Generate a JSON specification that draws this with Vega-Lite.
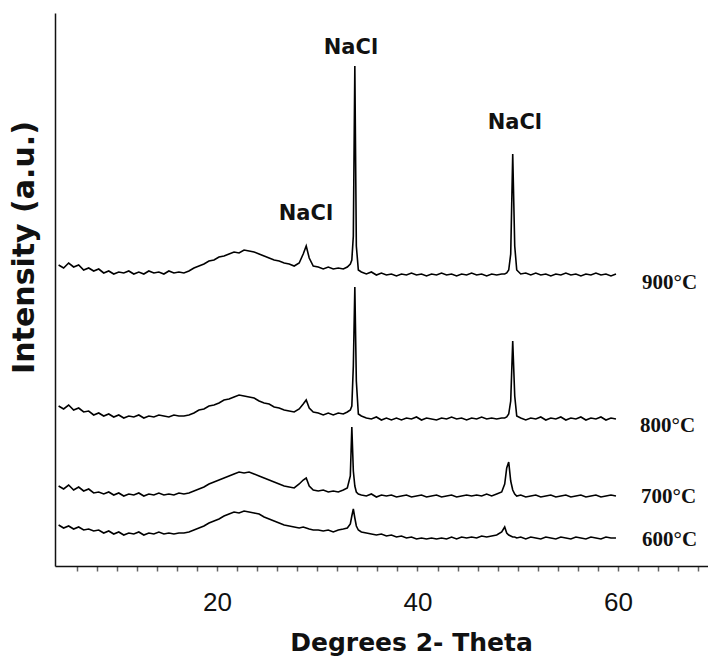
{
  "$schema": "https://vega.github.io/schema/vega-lite/v6.json",
  "width": 653,
  "height": 553,
  "autosize": "none",
  "padding": {"left": 55, "top": 13, "right": 0, "bottom": 91},
  "background": "white",
  "config": {"view": {"stroke": null}},
  "datasets": {
    "xrd": [
      {"x": 4.2, "a": 301, "b": 160, "c": 80, "d": 41},
      {"x": 4.7, "a": 298, "b": 157, "c": 77, "d": 38},
      {"x": 5.2, "a": 303, "b": 161, "c": 81, "d": 40},
      {"x": 5.7, "a": 299, "b": 156, "c": 76, "d": 37},
      {"x": 6.2, "a": 301, "b": 158, "c": 79, "d": 39},
      {"x": 6.7, "a": 296, "b": 154, "c": 75, "d": 36},
      {"x": 7.2, "a": 298, "b": 155, "c": 77, "d": 37},
      {"x": 7.7, "a": 295, "b": 151, "c": 73, "d": 35},
      {"x": 8.2, "a": 297, "b": 153, "c": 74, "d": 36},
      {"x": 8.7, "a": 293, "b": 150, "c": 72, "d": 33},
      {"x": 9.2, "a": 295, "b": 152, "c": 74, "d": 35},
      {"x": 9.7, "a": 292, "b": 149, "c": 71, "d": 32},
      {"x": 10.2, "a": 294, "b": 151, "c": 73, "d": 34},
      {"x": 10.7, "a": 293, "b": 148, "c": 70, "d": 31},
      {"x": 11.2, "a": 295, "b": 150, "c": 72, "d": 33},
      {"x": 11.7, "a": 292, "b": 149, "c": 71, "d": 32},
      {"x": 12.2, "a": 294, "b": 151, "c": 73, "d": 34},
      {"x": 12.7, "a": 292, "b": 148, "c": 70, "d": 31},
      {"x": 13.2, "a": 295, "b": 150, "c": 72, "d": 33},
      {"x": 13.7, "a": 293, "b": 149, "c": 71, "d": 32},
      {"x": 14.2, "a": 294, "b": 151, "c": 73, "d": 34},
      {"x": 14.7, "a": 292, "b": 150, "c": 71, "d": 32},
      {"x": 15.2, "a": 295, "b": 149, "c": 72, "d": 33},
      {"x": 15.7, "a": 293, "b": 151, "c": 71, "d": 32},
      {"x": 16.2, "a": 294, "b": 150, "c": 73, "d": 33},
      {"x": 16.7, "a": 293, "b": 150, "c": 72, "d": 33},
      {"x": 17.2, "a": 295, "b": 151, "c": 73, "d": 34},
      {"x": 17.7, "a": 298, "b": 153, "c": 75, "d": 36},
      {"x": 18.2, "a": 300, "b": 156, "c": 77, "d": 38},
      {"x": 18.7, "a": 302, "b": 157, "c": 79, "d": 40},
      {"x": 19.2, "a": 305, "b": 160, "c": 82, "d": 43},
      {"x": 19.7, "a": 306, "b": 161, "c": 84, "d": 45},
      {"x": 20.2, "a": 309, "b": 163, "c": 86, "d": 47},
      {"x": 20.7, "a": 310, "b": 166, "c": 88, "d": 50},
      {"x": 21.2, "a": 312, "b": 167, "c": 90, "d": 52},
      {"x": 21.7, "a": 314, "b": 169, "c": 92, "d": 54},
      {"x": 22.2, "a": 313, "b": 171, "c": 94, "d": 53},
      {"x": 22.7, "a": 316, "b": 170, "c": 93, "d": 55},
      {"x": 23.2, "a": 315, "b": 169, "c": 94, "d": 54},
      {"x": 23.7, "a": 314, "b": 168, "c": 92, "d": 53},
      {"x": 24.2, "a": 312, "b": 165, "c": 90, "d": 52},
      {"x": 24.7, "a": 310, "b": 163, "c": 88, "d": 49},
      {"x": 25.2, "a": 308, "b": 162, "c": 86, "d": 47},
      {"x": 25.7, "a": 306, "b": 159, "c": 84, "d": 45},
      {"x": 26.2, "a": 305, "b": 158, "c": 82, "d": 43},
      {"x": 26.7, "a": 303, "b": 156, "c": 80, "d": 41},
      {"x": 27.2, "a": 302, "b": 155, "c": 79, "d": 40},
      {"x": 27.7, "a": 300, "b": 154, "c": 78, "d": 39},
      {"x": 28.2, "a": 303, "b": 157, "c": 82, "d": 38},
      {"x": 28.6, "a": 312, "b": 162, "c": 86, "d": 39},
      {"x": 28.9, "a": 320, "b": 166, "c": 88, "d": 38},
      {"x": 29.2, "a": 308, "b": 158, "c": 80, "d": 37},
      {"x": 29.6, "a": 300, "b": 154, "c": 76, "d": 36},
      {"x": 30.1, "a": 299, "b": 153, "c": 75, "d": 36},
      {"x": 30.6, "a": 297, "b": 151, "c": 76, "d": 35},
      {"x": 31.1, "a": 299, "b": 153, "c": 74, "d": 36},
      {"x": 31.6, "a": 297, "b": 151, "c": 75, "d": 34},
      {"x": 32.1, "a": 298, "b": 153, "c": 74, "d": 36},
      {"x": 32.6, "a": 297, "b": 152, "c": 76, "d": 37},
      {"x": 33.0, "a": 299, "b": 154, "c": 78, "d": 38},
      {"x": 33.3, "a": 302, "b": 156, "c": 90, "d": 42},
      {"x": 33.45, "a": 306, "b": 160, "c": 139, "d": 50},
      {"x": 33.6, "a": 330, "b": 200, "c": 95, "d": 57},
      {"x": 33.75, "a": 500, "b": 279, "c": 80, "d": 48},
      {"x": 33.9, "a": 320, "b": 185, "c": 74, "d": 40},
      {"x": 34.1, "a": 296, "b": 152, "c": 72, "d": 36},
      {"x": 34.4, "a": 294, "b": 150, "c": 71, "d": 34},
      {"x": 34.9, "a": 292, "b": 148, "c": 70, "d": 33},
      {"x": 35.4, "a": 294, "b": 147, "c": 72, "d": 32},
      {"x": 35.9, "a": 291, "b": 149, "c": 69, "d": 31},
      {"x": 36.4, "a": 293, "b": 146, "c": 71, "d": 32},
      {"x": 36.9, "a": 291, "b": 148, "c": 70, "d": 30},
      {"x": 37.4, "a": 292, "b": 146, "c": 71, "d": 31},
      {"x": 37.9, "a": 290, "b": 148, "c": 69, "d": 29},
      {"x": 38.4, "a": 292, "b": 146, "c": 70, "d": 30},
      {"x": 38.9, "a": 291, "b": 148, "c": 71, "d": 28},
      {"x": 39.4, "a": 293, "b": 147, "c": 69, "d": 29},
      {"x": 39.9, "a": 291, "b": 149, "c": 70, "d": 27},
      {"x": 40.4, "a": 292, "b": 146, "c": 71, "d": 28},
      {"x": 40.9, "a": 290, "b": 148, "c": 69, "d": 27},
      {"x": 41.4, "a": 292, "b": 147, "c": 70, "d": 28},
      {"x": 41.9, "a": 291, "b": 146, "c": 71, "d": 27},
      {"x": 42.4, "a": 293, "b": 148, "c": 69, "d": 28},
      {"x": 42.9, "a": 291, "b": 147, "c": 70, "d": 27},
      {"x": 43.4, "a": 292, "b": 149, "c": 71, "d": 29},
      {"x": 43.9, "a": 290, "b": 147, "c": 69, "d": 27},
      {"x": 44.4, "a": 292, "b": 148, "c": 70, "d": 29},
      {"x": 44.9, "a": 291, "b": 146, "c": 71, "d": 28},
      {"x": 45.4, "a": 293, "b": 148, "c": 70, "d": 29},
      {"x": 45.9, "a": 291, "b": 147, "c": 71, "d": 28},
      {"x": 46.4, "a": 292, "b": 149, "c": 70, "d": 30},
      {"x": 46.9, "a": 290, "b": 147, "c": 72, "d": 29},
      {"x": 47.4, "a": 292, "b": 148, "c": 70, "d": 30},
      {"x": 47.9, "a": 291, "b": 147, "c": 72, "d": 31},
      {"x": 48.4, "a": 292, "b": 148, "c": 74, "d": 34},
      {"x": 48.7, "a": 292, "b": 148, "c": 82, "d": 39},
      {"x": 48.9, "a": 293, "b": 149, "c": 98, "d": 33},
      {"x": 49.1, "a": 296, "b": 152, "c": 104, "d": 31},
      {"x": 49.3, "a": 312, "b": 165, "c": 85, "d": 30},
      {"x": 49.5, "a": 412, "b": 225, "c": 76, "d": 29},
      {"x": 49.7, "a": 320, "b": 170, "c": 72, "d": 29},
      {"x": 49.9, "a": 296, "b": 150, "c": 70, "d": 28},
      {"x": 50.3, "a": 292, "b": 148, "c": 71, "d": 29},
      {"x": 50.8, "a": 293, "b": 146, "c": 69, "d": 27},
      {"x": 51.3, "a": 291, "b": 148, "c": 70, "d": 29},
      {"x": 51.8, "a": 293, "b": 147, "c": 71, "d": 28},
      {"x": 52.3, "a": 291, "b": 149, "c": 69, "d": 27},
      {"x": 52.8, "a": 292, "b": 146, "c": 70, "d": 29},
      {"x": 53.3, "a": 290, "b": 148, "c": 71, "d": 28},
      {"x": 53.8, "a": 292, "b": 147, "c": 69, "d": 27},
      {"x": 54.3, "a": 291, "b": 149, "c": 70, "d": 29},
      {"x": 54.8, "a": 293, "b": 146, "c": 71, "d": 28},
      {"x": 55.3, "a": 291, "b": 148, "c": 69, "d": 27},
      {"x": 55.8, "a": 292, "b": 147, "c": 70, "d": 29},
      {"x": 56.3, "a": 290, "b": 149, "c": 71, "d": 28},
      {"x": 56.8, "a": 292, "b": 146, "c": 69, "d": 27},
      {"x": 57.3, "a": 291, "b": 148, "c": 70, "d": 29},
      {"x": 57.8, "a": 293, "b": 147, "c": 71, "d": 28},
      {"x": 58.3, "a": 291, "b": 149, "c": 69, "d": 27},
      {"x": 58.8, "a": 292, "b": 146, "c": 70, "d": 29},
      {"x": 59.3, "a": 290, "b": 148, "c": 71, "d": 28},
      {"x": 59.8, "a": 292, "b": 147, "c": 70, "d": 28}
    ],
    "nacl": [
      {"x": 33.36, "y": 518, "t": "NaCl"},
      {"x": 49.71, "y": 443, "t": "NaCl"},
      {"x": 28.87, "y": 352, "t": "NaCl"}
    ],
    "temps": [
      {"x": 62.4, "y": 283, "t": "900°C"},
      {"x": 62.2, "y": 140, "t": "800°C"},
      {"x": 62.3, "y": 69, "t": "700°C"},
      {"x": 62.4, "y": 26, "t": "600°C"}
    ]
  },
  "layer": [
    {
      "data": {"name": "xrd"},
      "transform": [{"fold": ["a", "b", "c", "d"], "as": ["s", "y"]}],
      "mark": {"type": "line", "color": "black", "strokeWidth": 1.6},
      "encoding": {
        "x": {
          "field": "x",
          "type": "quantitative",
          "scale": {"domain": [3.84, 68.98], "nice": false, "zero": false},
          "axis": {
            "title": "Degrees 2- Theta",
            "values": [6, 8, 10, 12, 14, 16, 18, 20, 22, 24, 26, 28, 30, 32, 34, 36, 38, 40, 42, 44, 46, 48, 50, 52, 54, 56, 58, 60, 62, 64, 66, 68],
            "tickCount": 60,
            "labelExpr": "datum.value % 20 === 0 ? datum.label : ''",
            "labelOverlap": false,
            "labelFlush": false,
            "labelFont": "Liberation Sans",
            "labelFontSize": 26,
            "labelColor": "#111",
            "labelPadding": 18,
            "tickSize": 5,
            "tickColor": "#666",
            "tickWidth": 1.5,
            "domainColor": "#111",
            "domainWidth": 1.5,
            "grid": false,
            "titleFont": "DejaVu Sans",
            "titleFontSize": 25,
            "titleFontWeight": "bold",
            "titleColor": "#111",
            "titleX": 356,
            "titleY": 84,
            "titleAlign": "center",
            "titleBaseline": "alphabetic"
          }
        },
        "y": {
          "field": "y",
          "type": "quantitative",
          "scale": {"domain": [0, 553], "nice": false, "zero": false},
          "axis": {
            "title": "Intensity (a.u.)",
            "labels": false,
            "ticks": false,
            "grid": false,
            "domainColor": "#111",
            "domainWidth": 1.5,
            "titleFont": "DejaVu Sans",
            "titleFontSize": 30,
            "titleFontWeight": "bold",
            "titleColor": "#111",
            "titleX": -31,
            "titleY": 234,
            "titleAlign": "center",
            "titleBaseline": "middle",
            "titleAngle": -90
          }
        },
        "detail": {"field": "s"}
      }
    },
    {
      "data": {"name": "nacl"},
      "mark": {"type": "text", "font": "DejaVu Sans", "fontSize": 21, "fontWeight": "bold", "color": "#111", "align": "center", "baseline": "middle"},
      "encoding": {
        "x": {"field": "x", "type": "quantitative"},
        "y": {"field": "y", "type": "quantitative"},
        "text": {"field": "t"}
      }
    },
    {
      "data": {"name": "temps"},
      "mark": {"type": "text", "font": "Liberation Serif", "fontSize": 21, "fontWeight": "bold", "color": "#111", "align": "left", "baseline": "middle"},
      "encoding": {
        "x": {"field": "x", "type": "quantitative"},
        "y": {"field": "y", "type": "quantitative"},
        "text": {"field": "t"}
      }
    }
  ]
}
